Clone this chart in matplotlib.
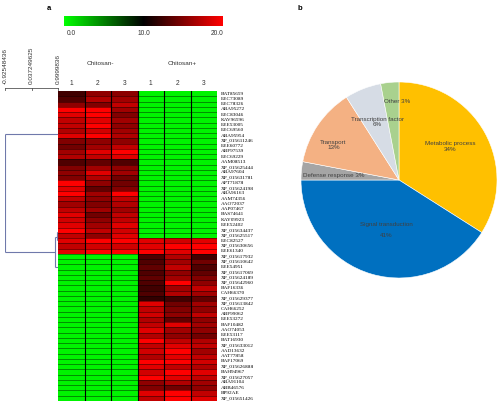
import numpy as np
import matplotlib
matplotlib.use("Agg")
import matplotlib.pyplot as plt
from matplotlib.colors import LinearSegmentedColormap
from matplotlib.cm import ScalarMappable
from matplotlib.colors import Normalize
import matplotlib.transforms as mtransforms

plt.rcParams['font.family'] = ['Liberation Sans', 'DejaVu Sans']

# ---- panel a: heatmap data (rows top to bottom) ----
gene_ids = ["BAT85659", "EEC73089", "EEC78326", "ABA95272", "EEC83046", "KAV96596",
            "EEE53005", "EEC69560", "ABA95954", "XP_015611246", "EEE60772", "ABF97539",
            "EEC69229", "AAM08513", "XP_015625444", "ABA97604", "XP_015631781", "APT71878",
            "XP_015624198", "ABA96163", "AAM74356", "AAO72037", "AAP07467", "BAS74641",
            "KAY09923", "EEE52402", "XP_015634437", "XP_015625517", "EEC82527",
            "XP_015630656", "EEE61340", "XP_015617932", "XP_015610642", "EEE54951",
            "XP_015617069", "XP_015624189", "XP_015642960", "BAF16336", "CAH66370",
            "XP_015629377", "XP_015613842", "CAH66252", "ABF99062", "EEE53272", "BAF10482",
            "AAO74053", "EEE53117", "BAT16930", "XP_015633012", "AAD13632", "AAT77858",
            "BAF17069", "XP_015626888", "BAH94967", "XP_015627057", "ABA91104", "ABB46576",
            "BP92AE", "XP_015651426"]

minus_1 = [12.5, 13.1, 15.6, 20.0, 18.8, 17.5, 17.5, 16.9, 18.8, 15.0, 14.4, 16.3, 16.9, 13.1,
           15.0, 15.6, 15.0, 20.0, 18.8, 20.0, 17.5, 16.3, 17.5, 18.8, 18.2, 18.8, 20.0, 17.5,
           18.8, 17.5, 18.8,
           0.5, 0.5, 0.5, 0.5, 0.5, 0.5, 0.5, 0.5, 0.5, 0.5, 0.5, 0.5, 0.5, 0.5,
           0.5, 0.5, 0.5, 0.5, 0.5, 0.5, 0.5, 0.5, 0.5, 0.5, 0.5, 0.5, 0.5, 0.5]
minus_2 = [15.6, 16.9, 15.0, 20.0, 20.0, 18.8, 20.0, 18.2, 20.0, 15.6, 16.3, 18.8, 17.5, 13.8,
           16.3, 18.8, 16.9, 15.6, 13.8, 16.3, 15.6, 15.0, 16.3, 14.4, 15.6, 16.3, 17.5, 15.6,
           20.0, 18.2, 20.0,
           0.5, 0.5, 0.5, 0.5, 0.5, 0.5, 0.5, 0.5, 0.5, 0.5, 0.5, 0.5, 0.5, 0.5,
           0.5, 0.5, 0.5, 0.5, 0.5, 0.5, 0.5, 0.5, 0.5, 0.5, 0.5, 0.5, 0.5, 0.5]
minus_3 = [15.4, 16.3, 17.5, 16.3, 15.0, 16.3, 15.6, 16.3, 16.9, 15.6, 17.5, 20.0, 18.8, 13.1,
           15.6, 16.3, 14.4, 14.4, 15.0, 20.0, 17.5, 16.9, 16.3, 17.5, 17.5, 18.8, 18.2, 18.8,
           20.0, 18.2, 20.0,
           0.5, 0.5, 0.5, 0.5, 0.5, 0.5, 0.5, 0.5, 0.5, 0.5, 0.5, 0.5, 0.5, 0.5,
           0.5, 0.5, 0.5, 0.5, 0.5, 0.5, 0.5, 0.5, 0.5, 0.5, 0.5, 0.5, 0.5, 0.5]
plus_1 = [0.5, 0.5, 0.5, 0.5, 0.5, 0.5, 0.5, 0.5, 0.5, 0.5, 0.5, 0.5, 0.5, 0.5,
          0.5, 0.5, 0.5, 0.5, 0.5, 0.5, 0.5, 0.5, 0.5, 0.5, 0.5, 0.5, 0.5, 0.5,
          18.8, 18.8, 20.0,
          13.1, 13.1, 13.8, 13.1, 13.8, 13.1, 12.5, 13.1, 11.9, 18.8, 17.5, 18.2, 16.9, 17.5,
          18.8, 16.9, 20.0, 17.5, 18.2, 16.9, 20.0, 18.8, 18.2, 20.0, 15.6, 15.0, 18.8, 17.5]
plus_2 = [0.5, 0.5, 0.5, 0.5, 0.5, 0.5, 0.5, 0.5, 0.5, 0.5, 0.5, 0.5, 0.5, 0.5,
          0.5, 0.5, 0.5, 0.5, 0.5, 0.5, 0.5, 0.5, 0.5, 0.5, 0.5, 0.5, 0.5, 0.5,
          18.2, 20.0, 18.8,
          16.9, 16.3, 17.5, 15.6, 16.3, 20.0, 16.3, 16.9, 12.5, 14.4, 15.0, 15.6, 13.8, 18.8,
          16.3, 15.6, 17.5, 18.8, 20.0, 18.8, 20.0, 17.5, 20.0, 18.8, 16.9, 14.4, 20.0, 20.0]
plus_3 = [0.5, 0.5, 0.5, 0.5, 0.5, 0.5, 0.5, 0.5, 0.5, 0.5, 0.5, 0.5, 0.5, 0.5,
          0.5, 0.5, 0.5, 0.5, 0.5, 0.5, 0.5, 0.5, 0.5, 0.5, 0.5, 0.5, 0.5, 0.5,
          18.8, 20.0, 20.0,
          12.5, 14.4, 13.1, 13.8, 15.0, 15.6, 17.5, 16.3, 13.8, 16.3, 15.6, 17.5, 15.6, 16.3,
          15.6, 14.4, 16.9, 17.5, 16.3, 17.5, 18.2, 16.9, 18.8, 17.5, 16.3, 15.6, 17.5, 18.8]

col_labels = ["1", "2", "3", "1", "2", "3"]
group_labels = ["Chitosan-", "Chitosan+"]
cbar_ticks = [0.0, 10.0, 20.0]

# dendrogram links: (distance, row) pairs
scale_ticks = [-0.92548436, 0.037249625, 0.9999836]
link_dist = [[-0.92548436, 0.9999836], [-0.92548436, -0.92548436], [-0.92548436, 0.891],
             [0.891, 0.891], [0.891, 0.9999836], [0.891, 0.9999836],
             [0.96, 0.96], [0.96, 0.9999836], [0.96, 0.9999836]]
link_rows = [[8.2, 8.2], [8.2, 30.7], [30.7, 30.7],
             [27.9, 33.6], [27.9, 27.9], [33.6, 33.6],
             [26.8, 28.4], [26.8, 26.8], [28.4, 28.4]]

# ---- panel b: pie ----
categories = ["Metabolic process", "Signal transduction", "Defense response", "Transport",
              "Transcription factor", "Other"]
shares = [34, 41, 3, 13, 6, 3]
pie_colors = ["#FFC000", "#0070C0", "#A5A5A5", "#F4B183", "#D6DCE5", "#A9D18E"]
pie_texts = ["Metabolic process\n34%", "Signal transduction\n\n41%", "Defense response 3%",
             "Transport\n13%", "Transcription factor\n6%", "Other 3%"]
text_pos = [(0.52, 0.34), (-0.13, -0.51), (-0.67, 0.05), (-0.67, 0.36), (-0.22, 0.59), (-0.02, 0.80)]

W, H = 500, 403
fig = plt.figure(figsize=(W / 100, H / 100), dpi=100)

cmap = LinearSegmentedColormap.from_list("gkr", [(0, "#00ff00"), (0.5, "#000000"), (1, "#ff0000")])

# heatmap
top, bot = 91, 400.75
ax_h = fig.add_axes([58 / W, 1 - bot / H, 159 / W, (bot - top) / H])
data = np.column_stack([minus_1, minus_2, minus_3, plus_1, plus_2, plus_3])
ax_h.pcolormesh(data, cmap=cmap, vmin=0, vmax=20, edgecolors="none")
for rr in range(1, len(gene_ids)):
    ax_h.axhline(rr, color="black", lw=0.45, alpha=0.65)
for c in range(1, 6):
    ax_h.axvline(c, color="black", lw=0.8)
ax_h.set_xlim(0, 6)
ax_h.set_ylim(len(gene_ids), 0)
ax_h.axis("off")

trans = mtransforms.blended_transform_factory(ax_h.transAxes, ax_h.transData)
for i, g in enumerate(gene_ids):
    ax_h.text(1.022, i + 0.5, g, transform=trans, fontsize=3.8, family="Liberation Serif",
              va="center", ha="left", color="black")
for j, lab in enumerate(col_labels):
    ax_h.text(j + 0.5, -1.5, lab, fontsize=4.8, ha="center", va="center", color="#333333",
              clip_on=False)
ax_h.text(1.6, -5.3, group_labels[0], fontsize=4.6, ha="center", va="center", color="#333333")
ax_h.text(4.7, -5.3, group_labels[1], fontsize=4.6, ha="center", va="center", color="#333333")

# colour bar
cax = fig.add_axes([64 / W, 1 - 26 / H, 159 / W, 10 / H])
cb = fig.colorbar(ScalarMappable(norm=Normalize(0, 20), cmap=cmap), cax=cax, orientation="horizontal")
cb.outline.set_visible(False)
cax.set_xticks([])
ctrans = mtransforms.blended_transform_factory(cax.transData, cax.transAxes)
for v, ha in zip(cbar_ticks, ["left", "center", "right"]):
    cax.text(v + (0.4 if ha == "left" else 0), -0.4, "%.1f" % v, transform=ctrans, fontsize=4.8,
             ha=ha, va="top", color="#333333")

# dendrogram
ax_d = fig.add_axes([5 / W, 1 - bot / H, 53 / W, (bot - top) / H])
for xs, ys in zip(link_dist, link_rows):
    ax_d.plot(xs, ys, color="#6f79ab", lw=0.8, solid_capstyle="butt")
ax_d.plot([scale_ticks[0], scale_ticks[-1]], [-0.57, -0.57], color="#555555", lw=0.6, clip_on=False)
for t in scale_ticks:
    ax_d.plot([t, t], [-0.57, -0.1], color="#555555", lw=0.6, clip_on=False)
    ax_d.text(t, -1.4, str(t), rotation=90, fontsize=4.6, ha="center", va="bottom",
              color="#333333", clip_on=False)
ax_d.set_xlim(scale_ticks[0], scale_ticks[-1])
ax_d.set_ylim(len(gene_ids), 0)
ax_d.axis("off")

fig.text(49 / W, 1 - 8 / H, "a", fontsize=5.5, fontweight="bold", ha="center", va="center")
fig.text(300 / W, 1 - 8 / H, "b", fontsize=5.5, fontweight="bold", ha="center", va="center")

# pie
cx, cy, r = 399, 180, 98
ax_p = fig.add_axes([(cx - r) / W, 1 - (cy + r) / H, 2 * r / W, 2 * r / H])
ax_p.pie(shares, colors=pie_colors, startangle=90, counterclock=False, radius=1,
         wedgeprops=dict(edgecolor="white", linewidth=0.4))
for txt, (x, y) in zip(pie_texts, text_pos):
    ax_p.text(x, y, txt, fontsize=4.5, ha="center", va="center", color="#404040", linespacing=1.1)
ax_p.set_xlim(-1, 1)
ax_p.set_ylim(-1, 1)
ax_p.axis("off")

fig.savefig("out.png", dpi=100)
